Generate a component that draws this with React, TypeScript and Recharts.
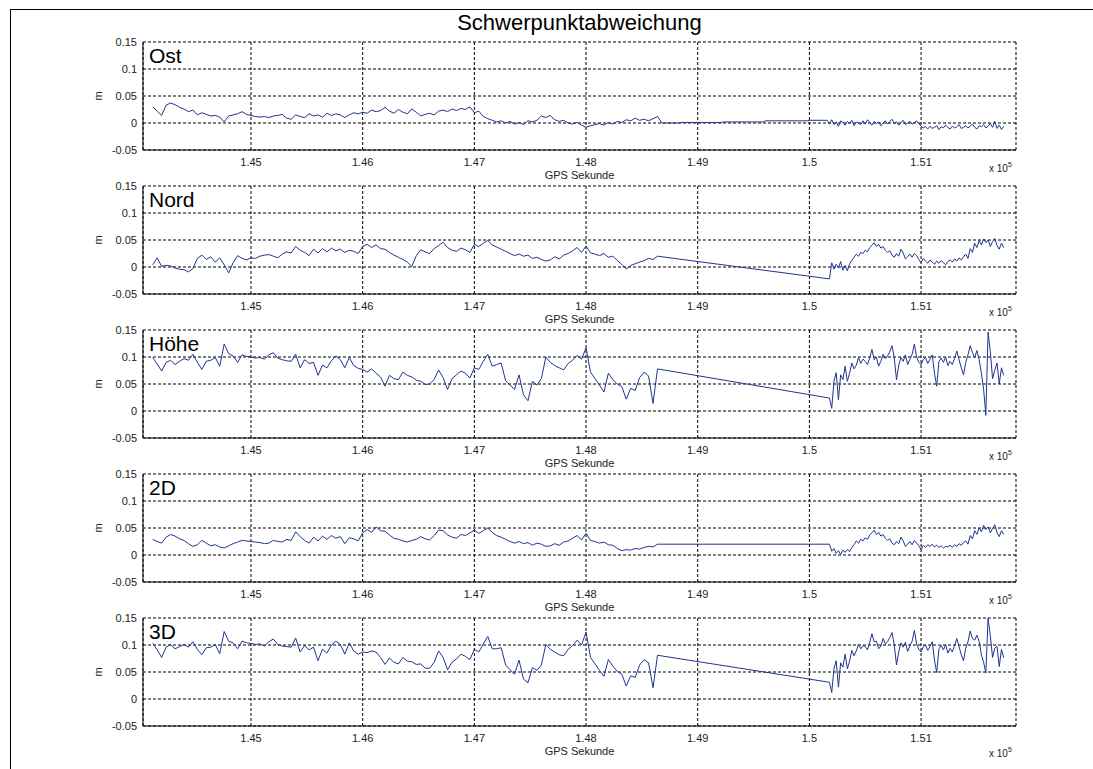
import React from "react";
import { LineChart, Line, XAxis, YAxis, CartesianGrid } from "recharts";

// GPS seconds: first block sampled every 40 s, second block every 20 s
const seg1Start = 144120;
const seg1Step = 40;
const seg2Start = 150180;
const seg2Step = 20;

const xTicks = [145000, 146000, 147000, 148000, 149000, 150000, 151000];
const yTicks = [-0.05, 0, 0.05, 0.1, 0.15];
const xDomain: [number, number] = [144033, 151850];

// values in mm
const ostSeg1 = [
  30, 22, 14, 33, 37, 34, 29, 26, 21, 24,
  15, 19, 16, 13, 14, 11, 2, 13, 15, 17,
  21, 16, 14, 12, 11, 12, 10, 13, 14, 16,
  9, 7, 15, 12, 10, 17, 13, 15, 11, 18,
  14, 17, 15, 10, 15, 19, 17, 20, 18, 24,
  21, 23, 29, 22, 18, 25, 20, 17, 26, 20,
  13, 16, 18, 15, 22, 24, 21, 26, 23, 27,
  25, 30, 19, 22, 12, 8, 5, 2, 4, 0,
  3, -2, 1, -3, 4, 2, 5, 13, 10, 14,
  6, 3, 5, 0, -2, 1, -4, -8, -5, -3,
  -1, -4, 1, -2, 3, 1, 6, 4, 9, 5,
  7, 4, 8, 12,
];
const ostGapTimes = [148680, 148840, 148850, 149217, 149227, 149593, 149603, 149987, 149997, 150160];
const ostGap = [0, 0, 1, 1, 2, 2, 4, 4, 5, 5];
const ostSeg2 = [
  -2, 6, -3, 2, -6, 4, 1, -4, 3, -1,
  5, -5, 2, 0, -3, 4, -2, 6, 1, -4,
  3, -1, 2, -5, 0, 4, -2, 3, 7, -1,
  2, -4, 1, 5, -3, 0, 3, -2, 1, 4,
  -1, -6, -9, -7, -11, -6, -10, -8, -5, -12,
  -7, -9, -4, -8, -11, -6, -9, -7, -3, -10,
  -8, -5, -9, -6, -2, -8, -11, -5, -7, -3,
  -9, -6, -1, -8, 3, -10, -4, -12, -6,
];

const nordSeg1 = [
  4, 17, 1, 3, 2, -2, -4, -5, -9, -3,
  16, 22, 14, 19, 9, 17, 4, -11, 8, 21,
  16, 13, 17, 16, 20, 22, 23, 20, 17, 24,
  28, 26, 38, 31, 27, 21, 33, 26, 34, 28,
  35, 30, 33, 27, 31, 29, 25, 38, 42, 36,
  41, 34, 33, 27, 22, 18, 14, 9, 1, 21,
  32, 28, 25, 34, 40, 46, 36, 31, 29, 35,
  32, 27, 42, 38, 44, 49, 41, 37, 33, 29,
  25, 21, 24, 20, 22, 16, 18, 14, 11, 13,
  19, 15, 22, 25, 30, 36, 27, 39, 26, 24,
  21, 25, 18, 20, 12, 5, -4, 3, 6, 9,
  12, 16, 14, 20,
];
const nordSeg2 = [
  -22, 8, -4, 5, -2, 10, -6, 3, -7, 6,
  12, 18, 24, 20, 27, 25, 31, 28, 36, 40,
  45, 38, 42, 35, 38, 31, 27, 30, 22, 18,
  25, 20, 33, 26, 15, 19, 24, 18, 25, 21,
  14, 8, 16, 11, 7, 13, 9, 5, 11, 7,
  12, 8, 4, 10, 13, 9, 15, 11, 17, 13,
  19, 24, 16, 34, 27, 44, 36, 49, 41, 52,
  45, 50, 38, 47, 53, 40, 33, 44, 36,
];

const hoeheSeg1 = [
  99, 87, 74, 90, 94, 86, 92, 97, 94, 105,
  90, 77, 92, 94, 99, 83, 124, 106, 102, 90,
  104, 101, 100, 98, 99, 96, 104, 108, 98, 95,
  93, 92, 105, 80, 95, 88, 90, 66, 85, 80,
  93, 102, 95, 80, 99, 84, 79, 77, 72, 78,
  70, 63, 46, 66, 60, 58, 72, 66, 63, 57,
  55, 49, 50, 58, 76, 62, 40, 60, 67, 74,
  70, 61, 80, 77, 92, 105, 83, 86, 89, 56,
  48, 40, 67, 30, 19, 55, 48, 60, 100, 90,
  84, 80, 76, 88, 94, 103, 96, 117, 72, 60,
  48, 35, 70, 58, 50, 45, 22, 42, 38, 62,
  72, 65, 14, 78,
];
const hoeheSeg2 = [
  24, 5, 55, 71, 21, 67, 58, 83, 55, 70,
  89, 78, 85, 99, 88, 96, 92, 86, 98, 114,
  95, 100, 83, 92, 105, 97, 102, 110, 121, 98,
  58, 85, 99, 92, 104, 86, 96, 105, 124, 100,
  90, 86, 95, 99, 88, 96, 104, 70, 46, 92,
  98, 90, 100, 84, 92, 86, 97, 111, 95, 80,
  67, 90, 104, 121, 108, 99, 112, 95, 70, 40,
  -8, 146, 110, 60, 75, 89, 50, 80, 66,
];

const d2Seg1 = [
  29, 25, 22, 33, 38, 35, 30, 27, 21, 16,
  19, 27, 22, 17, 19, 15, 13, 17, 21, 24,
  27, 26, 25, 24, 23, 21, 22, 27, 25, 24,
  29, 27, 43, 34, 27, 22, 33, 26, 35, 29,
  36, 31, 34, 21, 32, 30, 26, 41, 47, 42,
  52, 45, 44, 37, 31, 29, 26, 24, 27, 29,
  34, 30, 28, 36, 46, 45, 37, 33, 31, 38,
  36, 41, 46, 40, 45, 50, 42, 36, 33, 29,
  25, 22, 25, 21, 23, 18, 22, 20, 16, 17,
  21, 18, 24, 26, 31, 36, 28, 40, 27, 25,
  22, 24, 19, 18, 12, 8, 10, 9, 12, 11,
  14, 16, 15, 20,
];
const d2Seg2 = [
  20, 7, 12, 3, 8, 1, 9, 5, 10, 6,
  14, 19, 26, 22, 29, 26, 32, 29, 37, 41,
  46, 38, 42, 35, 38, 31, 27, 30, 22, 19,
  25, 21, 33, 26, 16, 20, 25, 19, 27, 22,
  17, 10, 18, 14, 19, 16, 20, 15, 18, 14,
  17, 13, 16, 15, 18, 14, 19, 16, 21, 18,
  23, 26, 20, 36, 30, 45, 38, 50, 43, 55,
  47, 52, 41, 49, 56, 42, 34, 45, 38,
];

const d3Seg1 = [
  103, 91, 77, 96, 101, 93, 97, 101, 96, 106,
  92, 82, 95, 96, 101, 84, 125, 107, 104, 93,
  107, 104, 103, 101, 102, 98, 106, 111, 101, 98,
  97, 96, 113, 87, 99, 91, 96, 71, 92, 85,
  100, 107, 101, 83, 104, 89, 83, 87, 86, 89,
  87, 77, 64, 76, 68, 65, 77, 70, 69, 64,
  65, 57, 57, 68, 89, 77, 54, 68, 74, 83,
  79, 73, 92, 87, 102, 116, 93, 93, 95, 63,
  54, 46, 72, 37, 30, 58, 53, 63, 101, 92,
  87, 82, 80, 92, 99, 109, 100, 124, 77, 65,
  53, 42, 73, 61, 51, 46, 24, 43, 40, 63,
  73, 67, 21, 81,
];
const d3Seg2 = [
  31, 12, 56, 71, 22, 67, 59, 83, 56, 70,
  90, 80, 89, 101, 93, 99, 97, 91, 105, 121,
  106, 107, 93, 98, 112, 102, 106, 114, 123, 100,
  63, 88, 104, 96, 105, 88, 99, 107, 127, 102,
  92, 87, 97, 100, 90, 97, 106, 72, 49, 93,
  99, 91, 101, 85, 94, 87, 99, 112, 97, 82,
  71, 94, 106, 126, 112, 109, 118, 107, 82, 68,
  48, 150, 117, 77, 94, 98, 60, 92, 76,
];

type Pt = { t: number; v: number };

function buildSeries(seg1: number[], seg2: number[], gapTimes: number[] = [], gapVals: number[] = []): Pt[] {
  const pts: Pt[] = [];
  seg1.forEach((v, i) => pts.push({ t: seg1Start + i * seg1Step, v: v / 1000 }));
  gapTimes.forEach((t, i) => pts.push({ t, v: gapVals[i] / 1000 }));
  seg2.forEach((v, i) => pts.push({ t: seg2Start + i * seg2Step, v: v / 1000 }));
  return pts;
}

const panels = [
  { name: "Ost", data: buildSeries(ostSeg1, ostSeg2, ostGapTimes, ostGap) },
  { name: "Nord", data: buildSeries(nordSeg1, nordSeg2) },
  { name: "Höhe", data: buildSeries(hoeheSeg1, hoeheSeg2) },
  { name: "2D", data: buildSeries(d2Seg1, d2Seg2) },
  { name: "3D", data: buildSeries(d3Seg1, d3Seg2) },
];

const FONT = "'Liberation Sans', Arial, Helvetica, sans-serif";
const LINE = "#1f3590";
const TXT = "#222";
const plotTops = [42, 186, 330, 474, 618];
const plotH = 108;
const padTop = 10;

const fmtX = (v: number) => String(v / 1e5);

function Panel({ name, data, top, last }: { name: string; data: Pt[]; top: number; last: boolean }) {
  return (
    <>
      <div style={{ position: "absolute", left: 0, top: top - padTop }}>
        <LineChart width={1093} height={plotH + 36 + padTop} data={data} margin={{ top: padTop, right: 77, bottom: 0, left: 0 }}>
          <CartesianGrid stroke="#000" strokeDasharray="3 2" />
          <XAxis
            dataKey="t"
            type="number"
            domain={xDomain}
            ticks={xTicks}
            interval={0}
            allowDataOverflow
            tickFormatter={fmtX}
            height={36}
            tickSize={4}
            tickMargin={4}
            tickLine={false}
            axisLine={{ stroke: "#000" }}
            tick={{ fontSize: 11, fill: TXT, fontFamily: FONT }}
            label={{ value: "GPS Sekunde", position: "insideBottom", offset: 7, fontSize: 11, fill: TXT, fontFamily: FONT }}
          />
          <XAxis
            xAxisId="top"
            orientation="top"
            type="number"
            domain={xDomain}
            allowDataOverflow
            height={0}
            tick={false}
            tickLine={false}
            axisLine={{ stroke: "#000" }}
          />
          <YAxis
            type="number"
            domain={[-0.05, 0.15]}
            ticks={yTicks}
            interval={0}
            allowDataOverflow
            width={143}
            tickSize={4}
            tickMargin={2}
            tickLine={false}
            axisLine={{ stroke: "#000" }}
            tick={{ fontSize: 11, fill: TXT, fontFamily: FONT }}
          />
          <YAxis
            yAxisId="right"
            orientation="right"
            type="number"
            domain={[-0.05, 0.15]}
            allowDataOverflow
            width={0}
            tick={false}
            tickLine={false}
            axisLine={{ stroke: "#000" }}
          />
          <Line type="linear" dataKey="v" stroke={LINE} strokeWidth={1} dot={false} isAnimationActive={false} />
        </LineChart>
      </div>
      <div style={{ position: "absolute", left: 149, top: top + 3, fontSize: 21, lineHeight: "21px", color: "#000", fontFamily: FONT }}>
        {name}
      </div>
      <div
        style={{
          position: "absolute",
          left: 88,
          top: top + plotH / 2 - 6,
          width: 20,
          height: 12,
          lineHeight: "12px",
          textAlign: "center",
          fontSize: 11,
          color: TXT,
          fontFamily: FONT,
          transform: "rotate(-90deg)",
        }}
      >
        m
      </div>
      <div
        style={{
          position: "absolute",
          left: 989,
          top: top + plotH + (last ? 22 : 13),
          fontSize: 10,
          lineHeight: "12px",
          color: TXT,
          fontFamily: FONT,
          whiteSpace: "nowrap",
        }}
      >
        x 10<span style={{ fontSize: 7, position: "relative", top: -5 }}>5</span>
      </div>
    </>
  );
}

export default function App() {
  return (
    <div style={{ position: "absolute", left: 0, top: 0, width: 1093, height: 769, overflow: "hidden", background: "#fff" }}>
      <div style={{ position: "absolute", left: 10, top: 9, width: 1100, height: 800, borderTop: "1px solid #000", borderLeft: "1px solid #000" }} />
      <div
        style={{
          position: "absolute",
          left: 143,
          top: 12,
          width: 873,
          textAlign: "center",
          fontSize: 22,
          lineHeight: "22px",
          color: "#000",
          fontFamily: FONT,
        }}
      >
        Schwerpunktabweichung
      </div>
      {panels.map((p, i) => (
        <Panel key={p.name} name={p.name} data={p.data} top={plotTops[i]} last={i === panels.length - 1} />
      ))}
    </div>
  );
}
